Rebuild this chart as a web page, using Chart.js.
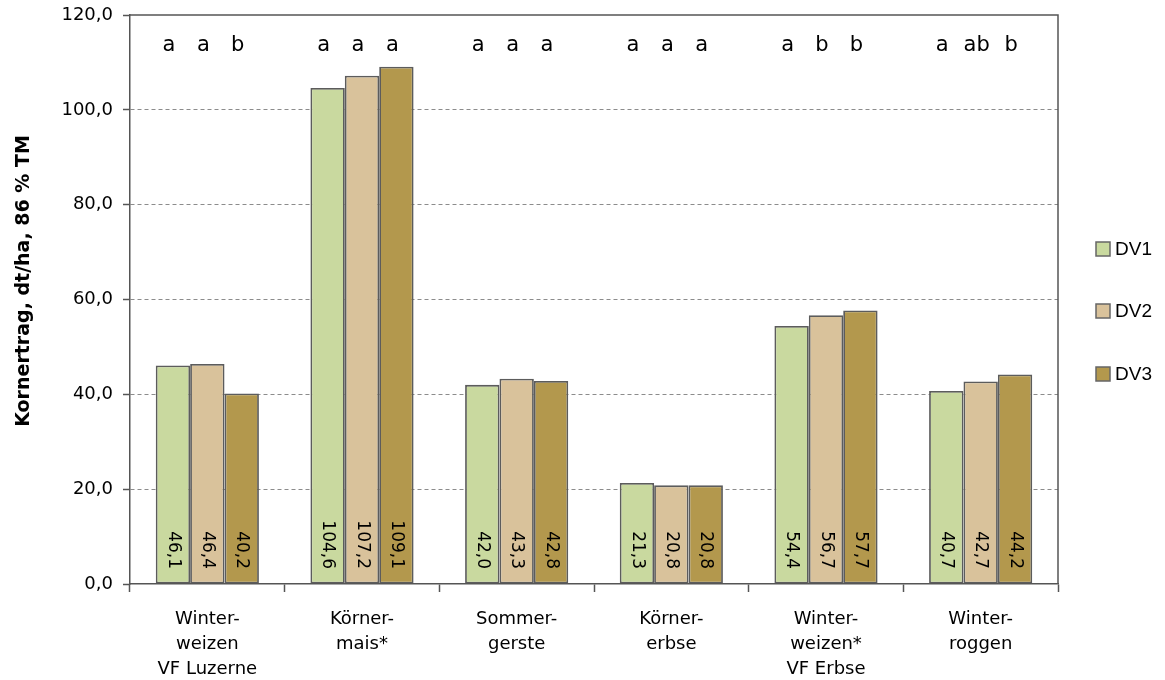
<!DOCTYPE html>
<html>
<head>
<meta charset="utf-8">
<script src="https://cdn.jsdelivr.net/npm/chart.js@4.4.1/dist/chart.umd.min.js"></script>
<style>
  html, body { margin: 0; padding: 0; background: #fff; }
  #wrap { width: 1165px; height: 680px; position: relative; }
</style>
</head>
<body>
<div id="wrap"><canvas id="c" width="1165" height="680"></canvas></div>
<script>
// Kornertrag je Kultur und Düngungsvariante
const categories = [
  ["Winter-", "weizen", "VF Luzerne"],
  ["Körner-", "mais*"],
  ["Sommer-", "gerste"],
  ["Körner-", "erbse"],
  ["Winter-", "weizen*", "VF Erbse"],
  ["Winter-", "roggen"]
];
const seriesNames = ["DV1", "DV2", "DV3"];
const dv1 = [46.1, 104.6, 42.0, 21.3, 54.4, 40.7];
const dv2 = [46.4, 107.2, 43.3, 20.8, 56.7, 42.7];
const dv3 = [40.2, 109.1, 42.8, 20.8, 57.7, 44.2];
// Signifikanzbuchstaben je Variante
const letters1 = ["a", "a", "a", "a", "a", "a"];
const letters2 = ["a", "a", "a", "a", "b", "ab"];
const letters3 = ["b", "a", "a", "a", "b", "b"];
const yTicks = [0, 20, 40, 60, 80, 100, 120];
const yTitle = "Kornertrag, dt/ha, 86 % TM";

const colors = ["#c9d99f", "#d9c29b", "#b3984d"];
const FONT = "'DejaVu Sans', sans-serif";
const fmt = v => v.toFixed(1).replace(".", ",");

const overlay = {
  id: "overlay",
  afterDatasetsDraw(chart) {
    const ctx = chart.ctx;
    const a = chart.chartArea;
    const letterSets = [letters1, letters2, letters3];
    ctx.save();
    // plot frame (top and right)
    ctx.strokeStyle = "#555";
    ctx.lineWidth = 1.5;
    ctx.beginPath();
    ctx.moveTo(a.left, a.top);
    ctx.lineTo(a.right, a.top);
    ctx.lineTo(a.right, a.bottom);
    ctx.stroke();

    const yBase = chart.scales.y.getPixelForValue(0);
    chart.data.datasets.forEach((ds, di) => {
      const meta = chart.getDatasetMeta(di);
      meta.data.forEach((bar, i) => {
        // value label, rotated, near bar base
        ctx.save();
        ctx.translate(bar.x, yBase - 15);
        ctx.rotate(Math.PI / 2);
        ctx.font = "17px " + FONT;
        ctx.fillStyle = "#000";
        ctx.textAlign = "right";
        ctx.textBaseline = "middle";
        ctx.fillText(fmt(ds.data[i]), 0, 0);
        ctx.restore();
        // significance letters along the top
        ctx.font = "21px " + FONT;
        ctx.fillStyle = "#000";
        ctx.textAlign = "center";
        ctx.textBaseline = "middle";
        ctx.fillText(letterSets[di][i], bar.x - 4, 46);
      });
    });

    // y axis title
    ctx.save();
    ctx.translate(24, 281);
    ctx.rotate(-Math.PI / 2);
    ctx.font = "bold 19px " + FONT;
    ctx.fillStyle = "#000";
    ctx.textAlign = "center";
    ctx.textBaseline = "middle";
    ctx.fillText(yTitle, 0, 0);
    ctx.restore();

    // legend
    const ly = [249, 311, 374];
    ctx.font = "19px 'Liberation Sans', sans-serif";
    seriesNames.forEach((n, k) => {
      ctx.fillStyle = colors[k];
      ctx.fillRect(1096, ly[k] - 7, 14, 14);
      ctx.strokeStyle = "#666";
      ctx.lineWidth = 1.5;
      ctx.strokeRect(1096, ly[k] - 7, 14, 14);
      ctx.fillStyle = "#000";
      ctx.textAlign = "left";
      ctx.textBaseline = "middle";
      ctx.fillText(n, 1115, ly[k] + 1);
    });
    ctx.restore();
  }
};

new Chart(document.getElementById("c"), {
  type: "bar",
  data: {
    labels: categories,
    datasets: [dv1, dv2, dv3].map((d, k) => ({
      label: seriesNames[k],
      data: d,
      backgroundColor: colors[k],
      borderColor: "#5c5c5c",
      borderWidth: 1.8,
      borderSkipped: false,
      categoryPercentage: 0.667,
      barPercentage: 1.0
    }))
  },
  options: {
    responsive: false,
    animation: false,
    devicePixelRatio: 1,
    layout: { padding: { top: 15, right: 107, left: 0, bottom: 0 } },
    plugins: { legend: { display: false }, tooltip: { enabled: false } },
    scales: {
      x: {
        grid: {
          display: true,
          offset: true,
          drawOnChartArea: false,
          drawTicks: true,
          tickLength: 8,
          tickColor: "#555",
          tickWidth: 1.5
        },
        border: { display: true, color: "#555", width: 1.5 },
        ticks: {
          font: { family: FONT, size: 18, lineHeight: 1.38 },
          color: "#000",
          padding: 15,
          maxRotation: 0,
          autoSkip: false
        },
        afterFit(scale) { scale.height = 96; }
      },
      y: {
        min: 0,
        max: 120,
        afterBuildTicks(scale) { scale.ticks = yTicks.map(v => ({ value: v })); },
        grid: {
          color: ctx => (ctx.tick && (ctx.tick.value === 0 || ctx.tick.value === 120)) ? "rgba(0,0,0,0)" : "#8c8c8c",
          lineWidth: 1,
          drawTicks: true,
          tickLength: 7,
          tickColor: "#555",
          tickWidth: 1.5,
          tickBorderDash: []
        },
        border: { display: true, color: "#555", width: 1.5, dash: [4, 3] },
        ticks: {
          font: { family: FONT, size: 18 },
          color: "#000",
          padding: 10,
          callback: v => fmt(v)
        },
        afterFit(scale) {
          scale.width = 130;
          scale.paddingTop = 0;
          scale.paddingBottom = 0;
        }
      }
    }
  },
  plugins: [overlay]
});
</script>
</body>
</html>
